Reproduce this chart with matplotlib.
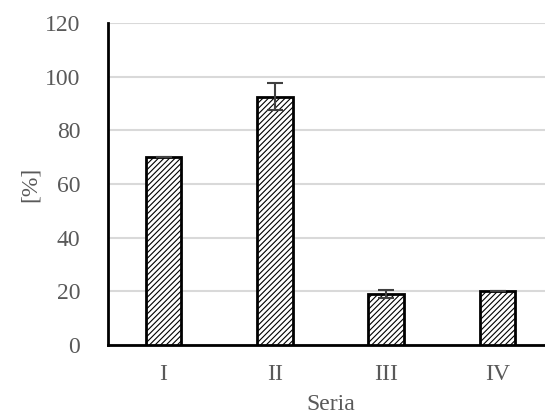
import matplotlib.pyplot as plt
import matplotlib as mpl

# dane
serie = ['I', 'II', 'III', 'IV']
wartosci = [70, 92.5, 19, 20]
bledy = [0, 5, 1.5, 0]

plt.rcParams['font.family'] = ['Liberation Serif', 'DejaVu Serif']
mpl.rcParams['hatch.linewidth'] = 0.8

fig = plt.figure(figsize=(5.45, 4.17), dpi=100)
ax = fig.add_axes([0.198, 0.173, 0.817, 0.772])

x = range(len(serie))
ax.bar(x, wartosci, width=0.32, color='white', edgecolor='black',
       linewidth=2, hatch='//////', zorder=3)
ax.errorbar(x, wartosci, yerr=bledy, fmt='none', ecolor='#404040',
            elinewidth=1.5, capsize=6, capthick=1.5, zorder=4)

ax.set_xlim(-0.5, 3.5)
ax.set_ylim(0, 120)
ax.set_yticks(range(0, 121, 20))
ax.set_xticks(list(x))
ax.set_xticklabels(serie)
ax.yaxis.grid(True, color='#d9d9d9', linewidth=1.5, zorder=0)
ax.set_axisbelow(True)

for s in ['top', 'right']:
    ax.spines[s].set_visible(False)
ax.spines['left'].set_linewidth(2)
ax.spines['bottom'].set_linewidth(2)
ax.tick_params(length=0, labelsize=17, colors='#595959')
ax.tick_params(axis='y', pad=20)
ax.tick_params(axis='x', pad=14)

ax.set_ylabel('[%]', fontsize=17, color='#595959', labelpad=3)
ax.set_xlabel('Seria', fontsize=17, color='#595959', labelpad=6)

fig.savefig('out.png', dpi=100)
